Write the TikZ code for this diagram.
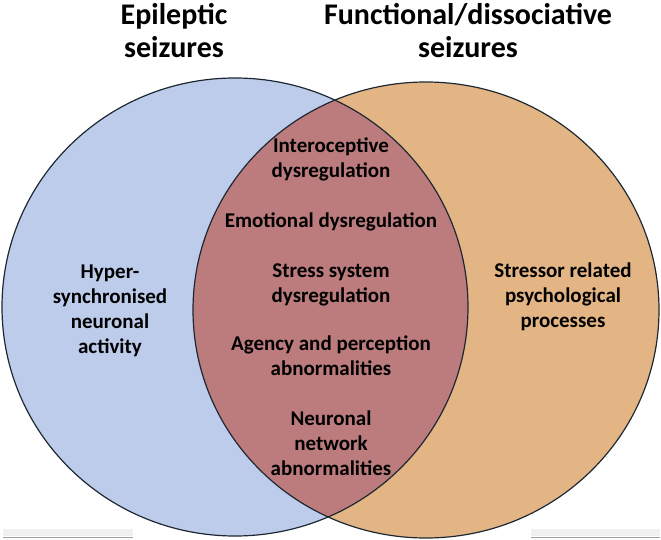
\documentclass[tikz,border=0pt]{standalone}
\usepackage{fontspec}
\setmainfont{Carlito}
\definecolor{epiblue}{HTML}{BDCCEA}
\definecolor{fdsorange}{HTML}{E3B584}
\definecolor{overlap}{HTML}{BC7B7C}
\definecolor{rim}{HTML}{1E2833}
\tikzset{
  title/.style={font=\bfseries\fontsize{30}{33}\selectfont, align=center, anchor=base, inner sep=0pt},
  lbl/.style={font=\bfseries\fontsize{21}{25}\selectfont, align=center, anchor=base, inner sep=0pt},
  rimline/.style={draw=rim, line width=1.2pt}
}
\begin{document}
\begin{tikzpicture}[x=1pt,y=-1pt]
  \useasboundingbox (0,0) rectangle (661,540);
  \coordinate (epi) at (235,307);
  \coordinate (fds) at (426,310);
  % the two sets
  \fill[epiblue] (epi) ellipse [x radius=233pt, y radius=229pt];
  \fill[fdsorange] (fds) ellipse [x radius=233pt, y radius=228pt];
  \begin{scope}
    \clip (epi) ellipse [x radius=233pt, y radius=229pt];
    \fill[overlap] (fds) ellipse [x radius=233pt, y radius=228pt];
  \end{scope}
  \draw[rimline] (epi) ellipse [x radius=233pt, y radius=229pt];
  \draw[rimline] (fds) ellipse [x radius=233pt, y radius=228pt];
  % headings (base = last line)
  \node[title] (epititle) at (174,58) {Epileptic\\seizures};
  \node[title] (fdstitle) at (468,58) {Functional/dissociative\\seizures};
  % contents
  \node[lbl] (hyper) at (110,353) {Hyper-\\synchronised\\neuronal\\activity};
  \node[lbl] (stressor) at (563,327) {Stressor related\\psychological\\processes};
  \node[lbl] (intero) at (331,178) {Interoceptive\\dysregulation};
  \node[lbl] (emotion) at (331,227) {Emotional dysregulation};
  \node[lbl] (stress) at (331,302) {Stress system\\dysregulation};
  \node[lbl] (agency) at (331,375) {Agency and perception\\abnormalities};
  \node[lbl] (network) at (331,475) {Neuronal\\network\\abnormalities};
  % scan marks at the bottom
  \fill[gray!12] (3,529) rectangle (133,536);
  \draw[gray!75, line width=0.8pt] (3,537) -- (133,537);
  \fill[gray!12] (531,529) rectangle (660,536);
  \draw[gray!75, line width=0.8pt] (531,537) -- (660,537);
\end{tikzpicture}
\end{document}
